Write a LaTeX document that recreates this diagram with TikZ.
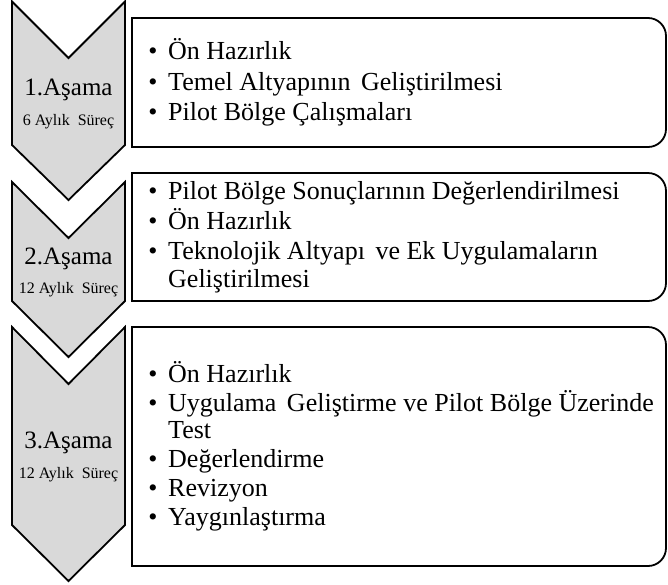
\documentclass[tikz,border=0pt]{standalone}
\usepackage{fontspec}
\setmainfont{Liberation Serif}
\definecolor{chevgray}{HTML}{D9D9D9}
\begin{document}
\begin{tikzpicture}[x=1pt,y=-1pt,
  chev/.style={draw=black, line width=1.8pt, fill=chevgray, line join=miter},
  itembox/.style={draw=black, line width=1.8pt, fill=white},
  item/.style={anchor=base west, inner sep=0pt, font=\fontsize{26}{30}\selectfont},
  bul/.style={anchor=base, inner sep=0pt, font=\fontsize{26}{30}\selectfont},
  stage/.style={anchor=base, inner sep=0pt, font=\fontsize{25}{28}\selectfont},
  dur/.style={anchor=base, inner sep=0pt, font=\fontsize{16}{18}\selectfont}]
\useasboundingbox (0,0) rectangle (668,584);
% chevrons
\draw[chev] (12,1.5) -- (68.5,58) -- (125,1.5) -- (125,145) -- (68.5,200) -- (12,145) -- cycle;
\draw[chev] (12,182) -- (68.5,238) -- (125,182) -- (125,301) -- (68.5,357) -- (12,301) -- cycle;
\draw[chev] (12,327) -- (68.5,384) -- (125,327) -- (125,525) -- (68.5,581) -- (12,525) -- cycle;
% boxes (square left corners, rounded right corners)
\draw[itembox] (132,18) -- (648,18) arc[start angle=-90, end angle=0, radius=18] -- (666,129) arc[start angle=0, end angle=90, radius=18] -- (132,147) -- cycle;
\draw[itembox] (132,173) -- (648,173) arc[start angle=-90, end angle=0, radius=18] -- (666,283) arc[start angle=0, end angle=90, radius=18] -- (132,301) -- cycle;
\draw[itembox] (132,327) -- (648,327) arc[start angle=-90, end angle=0, radius=18] -- (666,548) arc[start angle=0, end angle=90, radius=18] -- (132,566) -- cycle;
% stage labels
\node[stage] (s1) at (68.5,95) {1.Aşama};
\node[dur] (d1) at (68.5,125) {6 Aylık\hspace{4pt} Süreç};
\node[stage] (s2) at (68.5,264) {2.Aşama};
\node[dur] (d2) at (68.5,293) {12 Aylık\hspace{4pt} Süreç};
\node[stage] (s3) at (68.5,448) {3.Aşama};
\node[dur] (d3) at (68.5,478) {12 Aylık\hspace{4pt} Süreç};
% box 1
\node[bul] (b11) at (153,59) {•}; \node[item] (t11) at (168,59) {Ön Hazırlık};
\node[bul] (b12) at (153,90) {•}; \node[item] (t12) at (168,90) {Temel Altyapının\hspace{4pt} Geliştirilmesi};
\node[bul] (b13) at (153,120) {•}; \node[item] (t13) at (168,120) {Pilot Bölge Çalışmaları};
% box 2
\node[bul] (b21) at (153,199) {•}; \node[item] (t21) at (168,199) {Pilot Bölge Sonuçlarının Değerlendirilmesi};
\node[bul] (b22) at (153,229) {•}; \node[item] (t22) at (168,229) {Ön Hazırlık};
\node[bul] (b23) at (153,259) {•}; \node[item] (t23) at (168,259) {Teknolojik Altyapı\hspace{4pt} ve Ek Uygulamaların};
\node[item] (t24) at (168,287) {Geliştirilmesi};
% box 3
\node[bul] (b31) at (153,382) {•}; \node[item] (t31) at (168,382) {Ön Hazırlık};
\node[bul] (b32) at (153,411) {•}; \node[item] (t32) at (168,411) {Uygulama\hspace{4pt} Geliştirme ve Pilot Bölge Üzerinde};
\node[item] (t33) at (168,438) {Test};
\node[bul] (b34) at (153,467) {•}; \node[item] (t34) at (168,467) {Değerlendirme};
\node[bul] (b35) at (153,496) {•}; \node[item] (t35) at (168,496) {Revizyon};
\node[bul] (b36) at (153,525) {•}; \node[item] (t36) at (168,525) {Yaygınlaştırma};
\end{tikzpicture}
\end{document}
